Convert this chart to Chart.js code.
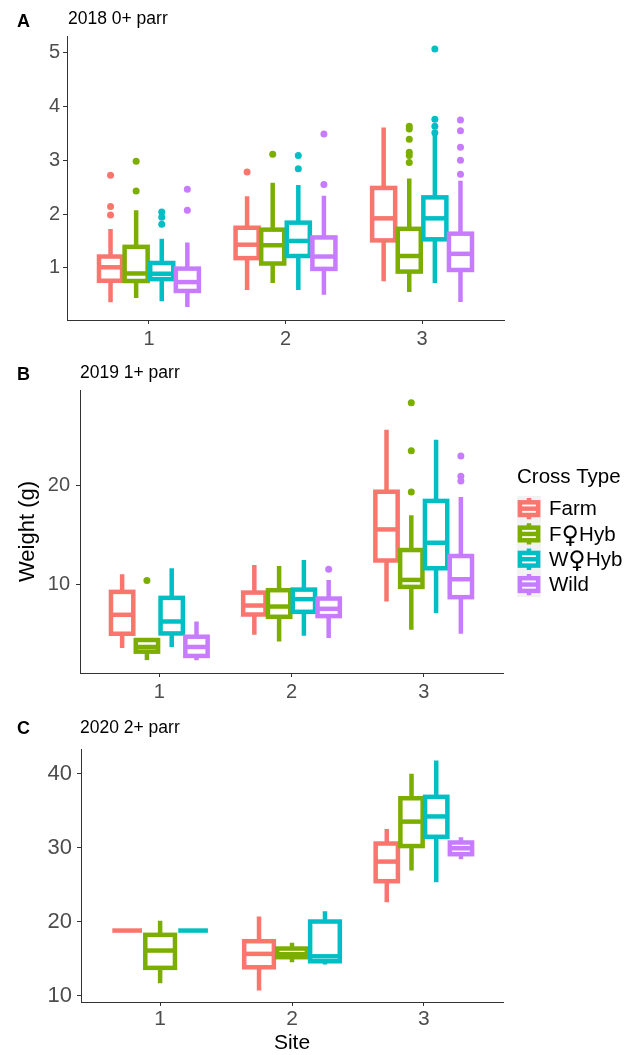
<!DOCTYPE html>
<html lang="en">
<head>
<meta charset="UTF-8">
<script src="https://cdn.jsdelivr.net/npm/chart.js"></script>
<style>
    body { margin: 0; background: #fff; }
    #wrap { position: relative; width: 633px; height: 1055px; font-family: "Liberation Sans", "DejaVu Sans", sans-serif; }
    canvas { position: absolute; left: 0; }
    .tag { position: absolute; font-weight: bold; font-size: 18px; line-height: 1; color: #000; }
    .sub { position: absolute; font-size: 17.5px; line-height: 1; color: #000; }
</style>
</head>
<body>
<div id="wrap">
    <canvas id="chartA" width="633" height="350" style="top:0"></canvas>
    <canvas id="chartB" width="633" height="350" style="top:350px"></canvas>
    <canvas id="chartC" width="633" height="355" style="top:700px"></canvas>
    <div class="tag" style="left:17px;top:12px">A</div>
    <div class="sub" style="left:68px;top:10px">2018 0+ parr</div>
    <div class="tag" style="left:17px;top:365px">B</div>
    <div class="sub" style="left:80px;top:364px">2019 1+ parr</div>
    <div class="tag" style="left:17px;top:719px">C</div>
    <div class="sub" style="left:80px;top:719px">2020 2+ parr</div>
</div>

<script>
    var sites = [1, 2, 3];
    var crossTypes = ['Farm', 'F\u2640Hyb', 'W\u2640Hyb', 'Wild'];

    // per cross type, per site: [lower whisker, Q1, median, Q3, upper whisker]
    var stats2018 = [
        [[0.36, 0.76, 1.01, 1.21, 1.72], [0.59, 1.18, 1.43, 1.745, 2.33], [0.75, 1.51, 1.92, 2.485, 3.61]],
        [[0.44, 0.755, 0.895, 1.39, 2.07], [0.72, 1.08, 1.42, 1.71, 2.58], [0.55, 0.93, 1.22, 1.725, 2.66]],
        [[0.38, 0.79, 0.89, 1.09, 1.54], [0.59, 1.22, 1.50, 1.84, 2.54], [0.72, 1.53, 1.92, 2.31, 3.47]],
        [[0.27, 0.57, 0.735, 0.985, 1.47], [0.50, 0.98, 1.21, 1.565, 2.34], [0.365, 0.96, 1.26, 1.635, 2.62]]
    ];
    var outliers2018 = [
        [[2.72, 2.14, 1.98], [2.78], []],
        [[2.98, 2.43], [3.11], [3.63, 3.58, 3.39, 3.15, 3.09, 2.96]],
        [[2.04, 1.94, 1.81], [3.09, 2.84], [5.07, 3.76, 3.63, 3.51]],
        [[2.46, 2.07], [3.49, 2.55], [3.75, 3.55, 3.24, 3.00, 2.74]]
    ];

    var stats2019 = [
        [[3.67, 5.1, 7.0, 9.3, 11.07], [5.0, 7.03, 7.93, 9.23, 12.0], [8.33, 12.45, 15.57, 19.35, 25.57]],
        [[2.45, 3.3, 3.77, 4.47, 4.47], [4.33, 6.8, 7.83, 9.47, 11.9], [5.5, 9.8, 10.5, 13.5, 17.0]],
        [[3.77, 5.13, 6.33, 8.7, 11.67], [4.9, 7.3, 8.57, 9.53, 12.5], [7.17, 11.67, 14.23, 18.43, 24.57]],
        [[2.45, 2.87, 3.77, 4.8, 6.33], [4.67, 6.87, 7.6, 8.63, 10.5], [5.1, 8.77, 10.57, 12.9, 18.83]]
    ];
    var outliers2019 = [
        [[], [], []],
        [[10.43], [], [28.27, 23.47, 19.33]],
        [[], [], []],
        [[], [11.57], [22.93, 20.9, 20.43]]
    ];

    var stats2020 = [
        [[18.78, 18.78, 18.78, 18.78, 18.78], [10.68, 13.82, 15.63, 17.34, 20.68], [22.6, 25.45, 28.1, 30.54, 32.52]],
        [[11.66, 13.74, 16.08, 18.2, 20.1], [14.5, 15.18, 15.58, 16.35, 17.12], [26.9, 30.2, 33.5, 36.66, 39.96]],
        [[18.78, 18.78, 18.78, 18.78, 18.78], [14.2, 14.63, 15.3, 20.0, 21.4], [25.3, 31.45, 34.2, 36.85, 41.76]],
        [null, null, [28.4, 29.1, 29.9, 30.68, 31.4]]
    ];
    var outliers2020 = [
        [[], [], []],
        [[], [], []],
        [[], [], []],
        [[], [], []]
    ];

    var yTicks2018 = [1, 2, 3, 4, 5];
    var yTicks2019 = [10, 20];
    var yTicks2020 = [10, 20, 30, 40];

    var colours = ['#F8766D', '#7CAE00', '#00BFC4', '#C77CFF'];
    var fontFamily = '"Liberation Sans", "DejaVu Sans", sans-serif';
    var boxLine = 4.5;

    // dodge the boxes present at a site across a 0.75 wide slot
    function dodge(stats, g, s) {
        var present = stats.map(function (grp) { return grp[s] != null; });
        var n = present.filter(Boolean).length;
        var k = present.slice(0, g).filter(Boolean).length;
        var step = 0.75 / n;
        return { x: sites[s] - 0.375 + step * (k + 0.5), w: step * 0.9 };
    }

    function drawBox(ctx, x, y, b, cx, w, colour) {
        var px = x.getPixelForValue(cx);
        var x0 = x.getPixelForValue(cx - w / 2);
        var x1 = x.getPixelForValue(cx + w / 2);
        var lo = y.getPixelForValue(b[0]);
        var q1 = y.getPixelForValue(b[1]);
        var med = y.getPixelForValue(b[2]);
        var q3 = y.getPixelForValue(b[3]);
        var hi = y.getPixelForValue(b[4]);
        ctx.strokeStyle = colour;
        ctx.beginPath();
        ctx.moveTo(px, q3); ctx.lineTo(px, hi);
        ctx.moveTo(px, q1); ctx.lineTo(px, lo);
        ctx.stroke();
        if (q1 - q3 > 0.5) {
            ctx.fillStyle = '#fff';
            ctx.fillRect(x0, q3, x1 - x0, q1 - q3);
            ctx.strokeRect(x0, q3, x1 - x0, q1 - q3);
        }
        ctx.beginPath();
        ctx.moveTo(x0, med); ctx.lineTo(x1, med);
        ctx.stroke();
    }

    function boxPlugin(stats) {
        return {
            id: 'boxes',
            beforeDatasetsDraw: function (chart) {
                var ctx = chart.ctx, x = chart.scales.x, y = chart.scales.y;
                ctx.save();
                ctx.lineWidth = boxLine;
                ctx.lineCap = 'butt';
                ctx.lineJoin = 'miter';
                stats.forEach(function (grp, g) {
                    grp.forEach(function (b, s) {
                        if (!b) return;
                        var d = dodge(stats, g, s);
                        drawBox(ctx, x, y, b, d.x, d.w, colours[g]);
                    });
                });
                ctx.restore();
            }
        };
    }

    // label with the female sign set a size up, as in the key
    function drawLabel(ctx, name, tx, ty) {
        var parts = name.split('\u2640');
        ctx.font = '20.5px ' + fontFamily;
        ctx.fillText(parts[0], tx, ty);
        if (parts.length < 2) return;
        tx += ctx.measureText(parts[0]).width;
        ctx.font = '24px "DejaVu Sans", sans-serif';
        ctx.fillText('\u2640', tx, ty + 2);
        tx += ctx.measureText('\u2640').width;
        ctx.font = '20.5px ' + fontFamily;
        ctx.fillText(parts[1], tx, ty);
    }

    // legend for the cross types, placed right of the middle panel
    var legendPlugin = {
        id: 'crossLegend',
        afterDraw: function (chart) {
            var ctx = chart.ctx;
            var left = 517, top = 146, kw = 24, kh = 25.3;
            ctx.save();
            ctx.fillStyle = '#000';
            ctx.font = '20.5px ' + fontFamily;
            ctx.textBaseline = 'middle';
            ctx.fillText('Cross Type', left, 127);
            ctx.fillStyle = '#F2F2F2';
            ctx.fillRect(left, top, kw, kh * crossTypes.length);
            ctx.lineWidth = boxLine;
            crossTypes.forEach(function (name, i) {
                var ky = top + i * kh;
                var cx = left + kw / 2;
                ctx.strokeStyle = colours[i];
                ctx.beginPath();
                ctx.moveTo(cx, ky + kh * 0.08); ctx.lineTo(cx, ky + kh * 0.25);
                ctx.moveTo(cx, ky + kh * 0.75); ctx.lineTo(cx, ky + kh * 0.92);
                ctx.stroke();
                ctx.fillStyle = '#fff';
                ctx.fillRect(left + kw * 0.12, ky + kh * 0.25, kw * 0.76, kh * 0.5);
                ctx.strokeRect(left + kw * 0.12, ky + kh * 0.25, kw * 0.76, kh * 0.5);
                ctx.beginPath();
                ctx.moveTo(left + kw * 0.12, ky + kh / 2); ctx.lineTo(left + kw * 0.88, ky + kh / 2);
                ctx.stroke();
                ctx.fillStyle = '#000';
                drawLabel(ctx, name, left + kw + 8, ky + kh / 2 + 1);
            });
            ctx.restore();
        }
    };

    function makeChart(id, stats, outliers, yTicks, o) {
        // ggplot-style 5% expansion around every whisker end and outlier
        var vals = [];
        stats.forEach(function (grp) { grp.forEach(function (b) { if (b) vals.push(b[0], b[4]); }); });
        outliers.forEach(function (grp) { grp.forEach(function (pts) { vals = vals.concat(pts); }); });
        var lo = Math.min.apply(null, vals), hi = Math.max.apply(null, vals);
        var pad = (hi - lo) * 0.05;

        var datasets = outliers.map(function (grp, g) {
            var pts = [];
            grp.forEach(function (vs, s) {
                if (!stats[g][s]) return;
                var d = dodge(stats, g, s);
                vs.forEach(function (v) { pts.push({ x: d.x, y: v }); });
            });
            return {
                label: crossTypes[g],
                data: pts,
                backgroundColor: colours[g],
                borderWidth: 0,
                pointRadius: 3.5
            };
        });

        var plugins = [boxPlugin(stats)];
        if (o.legend) plugins.push(legendPlugin);

        return new Chart(document.getElementById(id), {
            type: 'scatter',
            data: { datasets: datasets },
            plugins: plugins,
            options: {
                responsive: false,
                animation: false,
                layout: { padding: { top: o.top, right: o.right, bottom: 0, left: 0 } },
                plugins: { legend: { display: false }, tooltip: { enabled: false } },
                scales: {
                    x: {
                        type: 'linear',
                        min: 0.4,
                        max: 3.6,
                        afterBuildTicks: function (ax) { ax.ticks = sites.map(function (v) { return { value: v }; }); },
                        afterFit: function (ax) { ax.height = o.xh; },
                        grid: { drawOnChartArea: false, tickLength: 4, color: '#333' },
                        border: { color: '#333', width: 1 },
                        ticks: {
                            color: '#4d4d4d',
                            padding: o.xpad,
                            maxRotation: 0,
                            font: { family: fontFamily, size: o.xfont },
                            callback: function (v) { return String(v); }
                        },
                        title: o.xtitle ? {
                            display: true,
                            text: o.xtitle,
                            color: '#000',
                            padding: { top: 0, bottom: -1 },
                            font: { family: fontFamily, size: 21 }
                        } : { display: false }
                    },
                    y: {
                        min: lo - pad,
                        max: hi + pad,
                        afterBuildTicks: function (ax) { ax.ticks = yTicks.map(function (v) { return { value: v }; }); },
                        afterFit: function (ax) { ax.width = o.yw; },
                        grid: { drawOnChartArea: false, tickLength: 4, color: '#333' },
                        border: { color: '#333', width: 1 },
                        ticks: {
                            color: '#4d4d4d',
                            padding: o.ypad,
                            font: { family: fontFamily, size: o.yfont },
                            callback: function (v) { return String(v); }
                        },
                        title: o.ytitle ? {
                            display: true,
                            text: o.ytitle,
                            color: '#000',
                            padding: { top: 15, bottom: 0 },
                            font: { family: fontFamily, size: 22 }
                        } : { display: false }
                    }
                }
            }
        });
    }

    makeChart('chartA', stats2018, outliers2018, yTicks2018,
        { top: 36, right: 129, xh: 30, yw: 67, xfont: 20, yfont: 20, xpad: 3, ypad: 3 });
    makeChart('chartB', stats2019, outliers2019, yTicks2019,
        { top: 40, right: 130, xh: 27, yw: 80, xfont: 20, yfont: 20, xpad: 3, ypad: 6, ytitle: 'Weight (g)', legend: true });
    makeChart('chartC', stats2020, outliers2020, yTicks2020,
        { top: 49, right: 130, xh: 53, yw: 81, xfont: 21, yfont: 22, xpad: 1, ypad: 5, xtitle: 'Site' });
</script>
</body>
</html>
